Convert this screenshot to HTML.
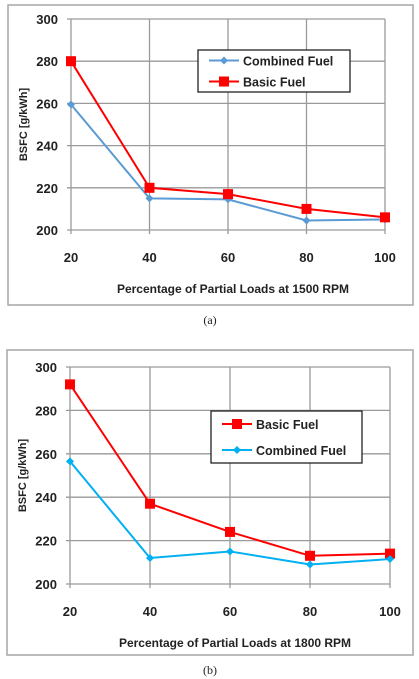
<!DOCTYPE html>
<html><head><meta charset="utf-8"><style>
body{margin:0;background:#fff;width:419px;height:679px;overflow:hidden;font-family:"Liberation Sans",sans-serif}
svg{display:block}
</style></head><body>
<svg id="s" width="419" height="679"></svg>
<script>
const categories=[20,40,60,80,100];
const yTicks=[200,220,240,260,280,300];
const aCombined=[259.5,215,214.5,204.5,205];
const aBasic=[280,220,217,210,206];
const bBasic=[292,237,224,213,214];
const bCombined=[256.5,212,215,209,211.5];
const NS="http://www.w3.org/2000/svg";
const svg=document.getElementById('s');
function mk(tag,at,parent,txt){const e=document.createElementNS(NS,tag);for(const k in at)e.setAttribute(k,at[k]);if(txt!==undefined)e.textContent=txt;(parent||svg).appendChild(e);return e;}
function chart(cfg){
  const g=mk('g',{});
  
  
  const fr=mk('rect',{x:cfg.fx,y:cfg.fy,width:cfg.fw,height:cfg.fh,fill:'#fff',stroke:'#a6a6a6','stroke-width':1.5},g);
  
  const xs=v=>cfg.x0+(v-20)/80*(cfg.x1-cfg.x0);
  const ys=v=>cfg.y200+(v-200)/100*(cfg.y300-cfg.y200);
  yTicks.forEach(t=>{
    const l=mk('line',{x1:cfg.x0-4,x2:cfg.x1,y1:ys(t),y2:ys(t),stroke:'#9a9a9a','stroke-width':1.3},g);
    
    const tx=mk('text',{x:cfg.x0-13,y:ys(t)+5,'text-anchor':'end','font-size':13,'font-weight':'bold',fill:'#222'},g,t);
    
  });
  categories.forEach(c=>{
    const l=mk('line',{x1:xs(c),x2:xs(c),y1:ys(300),y2:ys(200)+4,stroke:'#9a9a9a','stroke-width':1.3},g);
    
    const tx=mk('text',{x:xs(c),y:cfg.tickY,'text-anchor':'middle','font-size':13,'font-weight':'bold',fill:'#222'},g,c);
    
  });
  const yt=mk('text',{x:0,y:0,transform:`translate(${cfg.fx+19},${(ys(200)+ys(300))/2}) rotate(-90)`,'text-anchor':'middle','font-size':11,'font-weight':'bold',fill:'#222'},g,'BSFC  [g/kWh]');
  
  const xt=mk('text',{x:(cfg.x0+cfg.x1)/2+5,y:cfg.titleY,'text-anchor':'middle','font-size':12,'font-weight':'bold',fill:'#222'},g,cfg.xtitle);
  
  cfg.series.forEach(s=>{
    const pts=s.vals.map((v,i)=>xs(categories[i])+','+ys(v)).join(' ');
    const pl=mk('polyline',{points:pts,fill:'none',stroke:s.color,'stroke-width':2},g);
    
    s.vals.forEach((v,i)=>{
      let m;
      if(s.marker==='sq') m=mk('rect',{x:xs(categories[i])-5,y:ys(v)-5,width:10,height:10,fill:s.color},g);
      else m=mk('path',{d:`M${xs(categories[i])},${ys(v)-4}l4,4l-4,4l-4,-4z`,fill:s.color},g);
      
    });
  });
  const lg=mk('g',{},g);
  
  mk('rect',{x:cfg.lx,y:cfg.ly,width:cfg.lw,height:cfg.lh,fill:'#fff',stroke:'#222','stroke-width':1.3},lg);
  cfg.series.forEach((s,i)=>{
    const yy=cfg.ly+cfg.lh*(i*2+1)/4;
    mk('line',{x1:cfg.lx+11,x2:cfg.lx+41,y1:yy,y2:yy,stroke:s.color,'stroke-width':2},lg);
    if(s.marker==='sq') mk('rect',{x:cfg.lx+21,y:yy-5,width:10,height:10,fill:s.color},lg);
    else mk('path',{d:`M${cfg.lx+26},${yy-4}l4,4l-4,4l-4,-4z`,fill:s.color},lg);
    const t=mk('text',{x:cfg.lx+45,y:yy+5,'font-size':12.5,'font-weight':'bold',fill:'#222'},lg,s.label);
    
  });
  const cap=mk('text',{x:210,y:cfg.capY,'text-anchor':'middle','font-size':12,'font-family':'Liberation Serif, serif',fill:'#222'},svg,cfg.cap);
  
}
chart({name:'chart-a',fx:8,fy:5,fw:405,fh:300,x0:71,x1:385,y200:230,y300:19,tickY:262,titleY:293,
  xtitle:'Percentage of Partial Loads at 1500 RPM',lx:198,ly:50,lw:152,lh:42,capY:324,cap:'(a)',
  series:[{id:'combined-fuel',label:'Combined Fuel',vals:aCombined,color:'#5b9bd5',marker:'d'},
          {id:'basic-fuel',label:'Basic Fuel',vals:aBasic,color:'#ff0000',marker:'sq'}]});
chart({name:'chart-b',fx:7,fy:350,fw:406,fh:305,x0:70,x1:390,y200:584,y300:367,tickY:616,titleY:647,
  xtitle:'Percentage of Partial Loads at 1800 RPM',lx:211,ly:411,lw:151,lh:52,capY:674,cap:'(b)',
  series:[{id:'basic-fuel',label:'Basic Fuel',vals:bBasic,color:'#ff0000',marker:'sq'},
          {id:'combined-fuel',label:'Combined Fuel',vals:bCombined,color:'#00b0f0',marker:'d'}]});
</script>
</body></html>
